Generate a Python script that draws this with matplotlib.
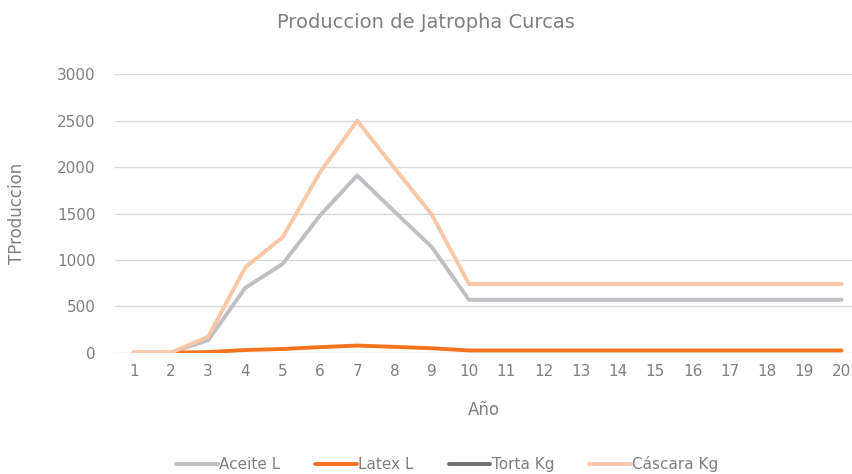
import matplotlib
matplotlib.use('Agg')
import matplotlib.pyplot as plt

# data
anios = list(range(1, 21))
aceite = [0, 0, 135, 700, 957, 1478, 1910, 1520, 1140, 570,
          570, 570, 570, 570, 570, 570, 570, 570, 570, 570]
latex = [0, 0, 7, 29, 40, 60, 77, 63, 48, 24,
         24, 24, 24, 24, 24, 24, 24, 24, 24, 24]
# Torta Kg is hidden under Cáscara Kg in the reference
torta = [0, 0, 172, 921, 1245, 1942, 2500, 1990, 1490, 741,
         741, 741, 741, 741, 741, 741, 741, 741, 741, 741]
cascara = [0, 0, 172, 921, 1245, 1942, 2500, 1990, 1490, 741,
           741, 741, 741, 741, 741, 741, 741, 741, 741, 741]
yticks = [0, 500, 1000, 1500, 2000, 2500, 3000]

txt = '#7f7f7f'
plt.rcParams['font.family'] = ['DejaVu Sans']

fig = plt.figure(figsize=(8.52, 4.74), dpi=100)
ax = fig.add_axes([115 / 852, 121.3 / 474, 737 / 852, 278.4 / 474])

lw = 2.8
ax.plot(anios, aceite, color='#bfbfc3', lw=lw, label='Aceite L', solid_capstyle='round')
ax.plot(anios, latex, color='#f47321', lw=lw, label='Latex L', solid_capstyle='round')
# drawn slightly thinner so the peach line covers it completely
ax.plot(anios, torta, color='#6e6e70', lw=2.0, label='Torta Kg', solid_capstyle='round')
ax.plot(anios, cascara, color='#f9c7a7', lw=lw, label='Cáscara Kg', solid_capstyle='round')

ax.set_xlim(0.5, 0.5 + 737 / 37.26)
ax.set_ylim(0, 3000)
ax.set_xticks(anios)
ax.set_yticks(yticks)
ax.tick_params(length=0, colors=txt, labelsize=11)
ax.tick_params(axis='x', pad=8)
ax.tick_params(axis='y', pad=14)
ax.grid(axis='y', color='#d9d9d9', lw=1)
ax.set_axisbelow(True)
for s in ax.spines.values():
    s.set_visible(False)

ax.set_xlabel('Año', color=txt, fontsize=12, labelpad=16)
ax.set_ylabel('TProduccion', color=txt, fontsize=12, labelpad=22)
fig.suptitle('Produccion de Jatropha Curcas', color=txt, fontsize=14, y=0.972)

leg = fig.legend(loc='lower center', bbox_to_anchor=(0.525, -0.025), ncol=4, frameon=False,
                 fontsize=11, labelcolor=txt, handlelength=2.7, handletextpad=0.1,
                 columnspacing=2.3)
for h in leg.legend_handles:
    h.set_linewidth(lw)

fig.savefig('out.png', dpi=100)
